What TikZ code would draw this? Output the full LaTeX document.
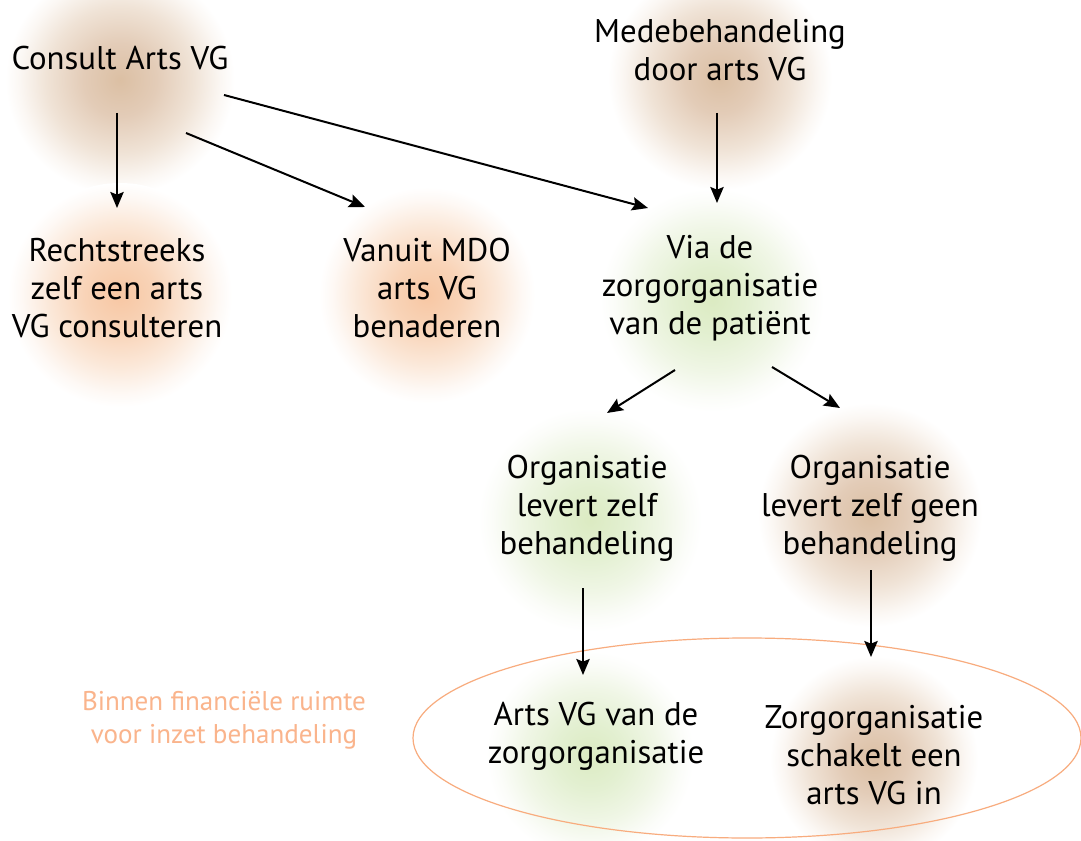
\documentclass[tikz,border=0pt]{standalone}
\usepackage{fontspec}
\setmainfont{PT Sans}
\usetikzlibrary{arrows.meta}
\definecolor{orangeline}{RGB}{248,172,126}
\definecolor{orangetext}{RGB}{250,180,140}
\pgfdeclareradialshading{glowbrown}{\pgfpoint{0bp}{0bp}}{rgb(0bp)=(0.86,0.75,0.64); rgb(8bp)=(0.89,0.80,0.72); rgb(16bp)=(0.94,0.89,0.84); rgb(22bp)=(0.985,0.97,0.955); rgb(25bp)=(1,1,1); rgb(50bp)=(1,1,1)}
\pgfdeclareradialshading{gloworange}{\pgfpoint{0bp}{0bp}}{rgb(0bp)=(0.97,0.78,0.64); rgb(8bp)=(0.975,0.83,0.72); rgb(16bp)=(0.985,0.91,0.85); rgb(22bp)=(0.995,0.975,0.96); rgb(25bp)=(1,1,1); rgb(50bp)=(1,1,1)}
\pgfdeclareradialshading{glowgreen}{\pgfpoint{0bp}{0bp}}{rgb(0bp)=(0.86,0.92,0.76); rgb(8bp)=(0.89,0.94,0.82); rgb(16bp)=(0.94,0.965,0.90); rgb(22bp)=(0.985,0.99,0.975); rgb(25bp)=(1,1,1); rgb(50bp)=(1,1,1)}
\tikzset{
  lbl/.style={align=center, font=\fontsize{24.6}{28.5}\selectfont, text=black, inner sep=0pt},
  note/.style={align=center, font=\fontsize{20.3}{24.7}\selectfont, text=orangetext, inner sep=0pt},
  arr/.style={line width=1.5pt, -{Stealth[length=12pt,width=10pt,inset=2pt]}},
  gb/.style={shading=glowbrown},
  go/.style={shading=gloworange},
  gg/.style={shading=glowgreen},
}
\begin{document}
\begin{tikzpicture}[x=0.75pt,y=-0.75pt]
\useasboundingbox (0,0) rectangle (1081,841);
\fill[white] (0,0) rectangle (1081,841);
% glows
\path[gb] (120,80) circle (86pt);
\path[gb] (720,78) circle (84pt);
\path[go] (120,295) circle (84pt);
\path[go] (427,295) circle (81pt);
\path[gg] (712,300) circle (84pt);
\path[gg] (590,520) circle (84pt);
\path[gb] (870,515) circle (84pt);
\path[gg] (590,755) circle (78pt);
\path[gb] (874,760) circle (78pt);
% ellipse
\draw[orangeline, line width=0.9pt] (747,738) ellipse [x radius=250.5pt, y radius=75pt];
% nodes
\node[lbl] (consult) at (120,58) {Consult Arts VG};
\node[lbl] (mede) at (720,50) {Medebehandeling\\door arts VG};
\node[lbl] (rechts) at (117,288) {Rechtstreeks\\zelf een arts\\VG consulteren};
\node[lbl] (mdo) at (427,288) {Vanuit MDO\\arts VG\\benaderen};
\node[lbl] (via) at (710,288) {Via de\\zorgorganisatie\\van de patiënt};
\node[lbl] (org1) at (587,508) {Organisatie\\levert zelf\\behandeling};
\node[lbl] (org2) at (870,508) {Organisatie\\levert zelf geen\\behandeling};
\node[lbl] (arts) at (596,736) {Arts VG van de\\zorgorganisatie};
\node[lbl] (zorg) at (874,755) {Zorgorganisatie\\schakelt een\\arts VG in};
\node[note] (binnen) at (224,720) {Binnen financiële ruimte\\voor inzet behandeling};
% connectors
\draw[arr] ([shift={(-3,55)}]consult.center) -- ([shift={(0,-80)}]rechts.center);
\draw[arr] ([shift={(66,75)}]consult.center) -- ([shift={(-62,-81)}]mdo.center);
\draw[arr] ([shift={(104,37)}]consult.center) -- ([shift={(-62,-80)}]via.center);
\draw[arr] ([shift={(-3,63)}]mede.center) -- ([shift={(7,-85)}]via.center);
\draw[arr] ([shift={(-35,82)}]via.center) -- ([shift={(20,-95)}]org1.center);
\draw[arr] ([shift={(62,79)}]via.center) -- ([shift={(-30,-100)}]org2.center);
\draw[arr] ([shift={(-4,80)}]org1.center) -- ([shift={(-13,-61)}]arts.center);
\draw[arr] ([shift={(1,62)}]org2.center) -- ([shift={(-3,-98)}]zorg.center);
\end{tikzpicture}
\end{document}
